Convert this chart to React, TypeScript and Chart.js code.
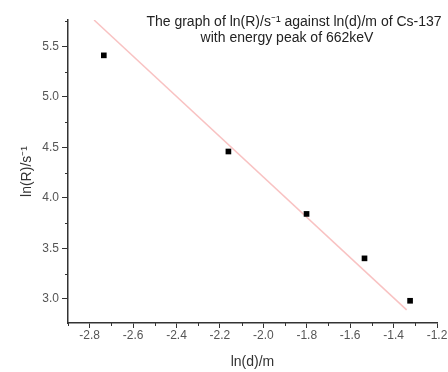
import React, { useEffect, useRef } from "react";
import { Chart, registerables } from "chart.js";

Chart.register(...registerables);

const dataX = [-2.735, -2.161, -1.801, -1.534, -1.324];
const dataY = [5.41, 4.458, 3.84, 3.4, 2.98];
const fitX = [-2.78, -1.34];
const fitY = [5.76, 2.89];
const xTicks = [-2.8, -2.6, -2.4, -2.2, -2.0, -1.8, -1.6, -1.4, -1.2];
const yTicks = [3.0, 3.5, 4.0, 4.5, 5.0, 5.5];
const xMinorTicks = [-2.9, -2.7, -2.5, -2.3, -2.1, -1.9, -1.7, -1.5, -1.3];
const yMinorTicks = [3.25, 3.75, 4.25, 4.75, 5.25, 5.75];
const titleLines = [
  "The graph of ln(R)/s\u207B\u00B9 against ln(d)/m of Cs-137",
  "with energy peak of 662keV",
];
const xTitle = "ln(d)/m";
const yTitle = "ln(R)/s\u207B\u00B9";

const FONT = "'Liberation Sans', Arial, sans-serif";

export default function App() {
  const ref = useRef<HTMLCanvasElement | null>(null);

  useEffect(() => {
    if (!ref.current) return;

    const decor = {
      id: "decor",
      afterDraw(chart: any) {
        const ctx = chart.ctx;
        const xs = chart.scales.x;
        const ys = chart.scales.y;
        const area = chart.chartArea;
        ctx.save();
        ctx.strokeStyle = "#333";
        ctx.lineWidth = 1;
        xMinorTicks.forEach((v) => {
          const px = Math.round(xs.getPixelForValue(v)) + 0.5;
          ctx.beginPath();
          ctx.moveTo(px, area.bottom);
          ctx.lineTo(px, area.bottom + 3);
          ctx.stroke();
        });
        yMinorTicks.forEach((v) => {
          if (v > ys.max || v < ys.min) return;
          const py = Math.round(ys.getPixelForValue(v)) + 0.5;
          ctx.beginPath();
          ctx.moveTo(area.left, py);
          ctx.lineTo(area.left - 3, py);
          ctx.stroke();
        });
        ctx.fillStyle = "#222";
        ctx.font = `14px ${FONT}`;
        ctx.textAlign = "center";
        ctx.textBaseline = "middle";
        ctx.fillText(titleLines[0], 294, 22);
        ctx.fillText(titleLines[1], 287, 38);
        ctx.restore();
      },
    };

    const chart = new Chart(ref.current, {
      type: "scatter",
      data: {
        datasets: [
          {
            label: "fit",
            data: fitX.map((x, i) => ({ x, y: fitY[i] })),
            showLine: true,
            borderColor: "rgba(240,120,120,0.45)",
            borderWidth: 1.5,
            pointRadius: 0,
            order: 2,
          },
          {
            label: "data",
            data: dataX.map((x, i) => ({ x, y: dataY[i] })),
            pointStyle: "rect",
            pointRadius: 4,
            backgroundColor: "#000",
            borderColor: "#000",
            borderWidth: 0,
            order: 1,
          },
        ],
      },
      options: {
        animation: false,
        responsive: false,
        maintainAspectRatio: false,
        layout: { padding: { top: 20, right: 11, left: 0, bottom: 0 } },
        plugins: {
          legend: { display: false },
          tooltip: { enabled: false },
          title: { display: false },
        },
        scales: {
          x: {
            type: "linear",
            min: -2.9,
            max: -1.2,
            afterBuildTicks: (scale: any) => {
              scale.ticks = xTicks.map((v) => ({ value: v }));
            },
            afterFit: (scale: any) => {
              scale.height = 49;
              scale.paddingLeft = 0;
              scale.paddingRight = 0;
            },
            grid: {
              display: true,
              drawOnChartArea: false,
              drawTicks: true,
              tickLength: 5,
              tickColor: "#333",
              tickWidth: 1,
            },
            border: { display: true, color: "#333", width: 1.5 },
            ticks: {
              color: "#555",
              font: { family: FONT, size: 12 },
              padding: 0,
              maxRotation: 0,
              autoSkip: false,
              callback: (v: any) => Number(v).toFixed(1),
            },
            title: {
              display: true,
              text: xTitle,
              color: "#333",
              font: { family: FONT, size: 14 },
              padding: { top: 0, bottom: 1.5 },
            },
          },
          y: {
            type: "linear",
            min: 2.76,
            max: 5.76,
            afterBuildTicks: (scale: any) => {
              scale.ticks = yTicks.map((v) => ({ value: v }));
            },
            afterFit: (scale: any) => {
              scale.width = 68;
              scale.paddingTop = 0;
              scale.paddingBottom = 0;
            },
            grid: {
              display: true,
              drawOnChartArea: false,
              drawTicks: true,
              tickLength: 6,
              tickColor: "#333",
              tickWidth: 1,
            },
            border: { display: true, color: "#333", width: 1.5 },
            ticks: {
              color: "#555",
              font: { family: FONT, size: 12 },
              padding: 3,
              autoSkip: false,
              callback: (v: any) => Number(v).toFixed(1),
            },
            title: {
              display: true,
              text: yTitle,
              color: "#333",
              font: { family: FONT, size: 14 },
              padding: { top: 19, bottom: 0 },
            },
          },
        },
      },
      plugins: [decor],
    });

    return () => chart.destroy();
  }, []);

  return (
    <div style={{ position: "absolute", left: 0, top: 0, width: 448, height: 372, background: "#fff" }}>
      <canvas ref={ref} width={448} height={372} style={{ display: "block", width: 448, height: 372 }} />
    </div>
  );
}
